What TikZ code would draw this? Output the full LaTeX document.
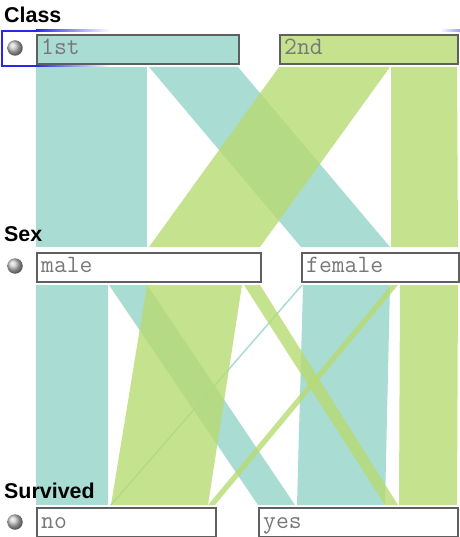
\documentclass[tikz,border=0pt]{standalone}
\usepackage{fontspec}
\setmainfont{Liberation Sans}
\definecolor{tealc}{RGB}{148,211,200}
\definecolor{greenc}{RGB}{183,219,114}
\definecolor{tealf}{RGB}{169,220,211}
\definecolor{greenf}{RGB}{198,226,143}
\definecolor{boxline}{RGB}{95,95,95}
\definecolor{txtgray}{RGB}{120,120,120}
\definecolor{focusc}{RGB}{40,40,235}
\begin{document}
\begin{tikzpicture}[x=1bp,y=-1bp,
  box/.style={draw=boxline, line width=1.6bp, anchor=north west, inner sep=0pt, minimum height=29bp},
  boxtext/.style={font=\ttfamily\fontsize{25}{25}\selectfont, text=txtgray, anchor=base west, inner sep=0pt},
  dimlabel/.style={font=\bfseries\fontsize{21.5}{22}\selectfont, anchor=base west, inner sep=0pt},
  tealrib/.style={fill=tealc, fill opacity=0.8},
  greenrib/.style={fill=greenc, fill opacity=0.8},
  radio/.style={circle, minimum size=15.5bp, inner sep=0pt, shading=ball, ball color=gray!45}]
\useasboundingbox (0,0) rectangle (460,537);

% ---------- focus ring ----------
\fill[focusc] (1,30) rectangle (3,67);
\fill[focusc] (3,30) rectangle (36,32);
\fill[focusc] (3,65) rectangle (36,67);
\shade[left color=focusc, right color=white] (36,30) rectangle (110,32);
\shade[left color=focusc, right color=white] (36,65) rectangle (110,67);
\shade[left color=white, right color=focusc!45] (440,30) rectangle (460,32);

\node[radio] (r1) at (15,48) {};
\node[radio] (r2) at (15,266) {};
\node[radio] (r3) at (15,522) {};

% ---------- boxes ----------
\node[box, fill=tealf, minimum width=202bp] (c1) at (36,34) {};
\node[box, fill=greenf, minimum width=178bp] (c2) at (279,34) {};
\node[box, fill=white, minimum width=224bp] (smale) at (36,252) {};
\node[box, fill=white, minimum width=157bp] (sfem) at (301,252) {};
\node[box, fill=white, minimum width=179bp] (vno) at (36,507) {};
\node[box, fill=white, minimum width=199bp] (vyes) at (258,507) {};

\node[boxtext] (c1t) at ([xshift=5bp,yshift=-20.5bp]c1.north west) {1st};
\node[boxtext] (c2t) at ([xshift=5bp,yshift=-20.5bp]c2.north west) {2nd};
\node[boxtext] (smt) at ([xshift=5bp,yshift=-20.5bp]smale.north west) {male};
\node[boxtext] (sft) at ([xshift=5bp,yshift=-20.5bp]sfem.north west) {female};
\node[boxtext] (vnt) at ([xshift=5bp,yshift=-21.5bp]vno.north west) {no};
\node[boxtext] (vyt) at ([xshift=5bp,yshift=-21.5bp]vyes.north west) {yes};

% ---------- Class -> Sex ribbons ----------
\fill[tealrib] (36,67) -- (147,67) -- (147,247) -- (36,247) -- cycle;
\fill[tealrib] (149,67) -- (238,67) -- (390,247) -- (301,247) -- cycle;
\fill[greenrib] (279,67) -- (390,67) -- (260,247) -- (149,247) -- cycle;
\fill[greenrib] (391,67) -- (457,67) -- (458,247) -- (391,247) -- cycle;

% ---------- Sex -> Survived ribbons ----------
\fill[tealrib] (36,285) -- (108,285) -- (108,505) -- (36,505) -- cycle;
\fill[tealrib] (109,285) -- (147,285) -- (295,505) -- (258,505) -- cycle;
\fill[tealrib] (301,285) -- (303,285) -- (112,505) -- (110,505) -- cycle;
\fill[tealrib] (303,285) -- (390,285) -- (385,505) -- (297,505) -- cycle;
\fill[greenrib] (147,285) -- (242,285) -- (208,505) -- (111,505) -- cycle;
\fill[greenrib] (244,285) -- (260,285) -- (398,505) -- (385,505) -- cycle;
\fill[greenrib] (391,285) -- (398,285) -- (215,505) -- (208,505) -- cycle;
\fill[greenrib] (400,285) -- (458,285) -- (457,505) -- (399,505) -- cycle;

% ---------- labels (on top) ----------
\node[dimlabel] (lclass) at (4,23) {Class};
\node[dimlabel] (lsex) at (4,241) {Sex};
\node[dimlabel] (lsurv) at (4,498) {Survived};
\end{tikzpicture}
\end{document}
